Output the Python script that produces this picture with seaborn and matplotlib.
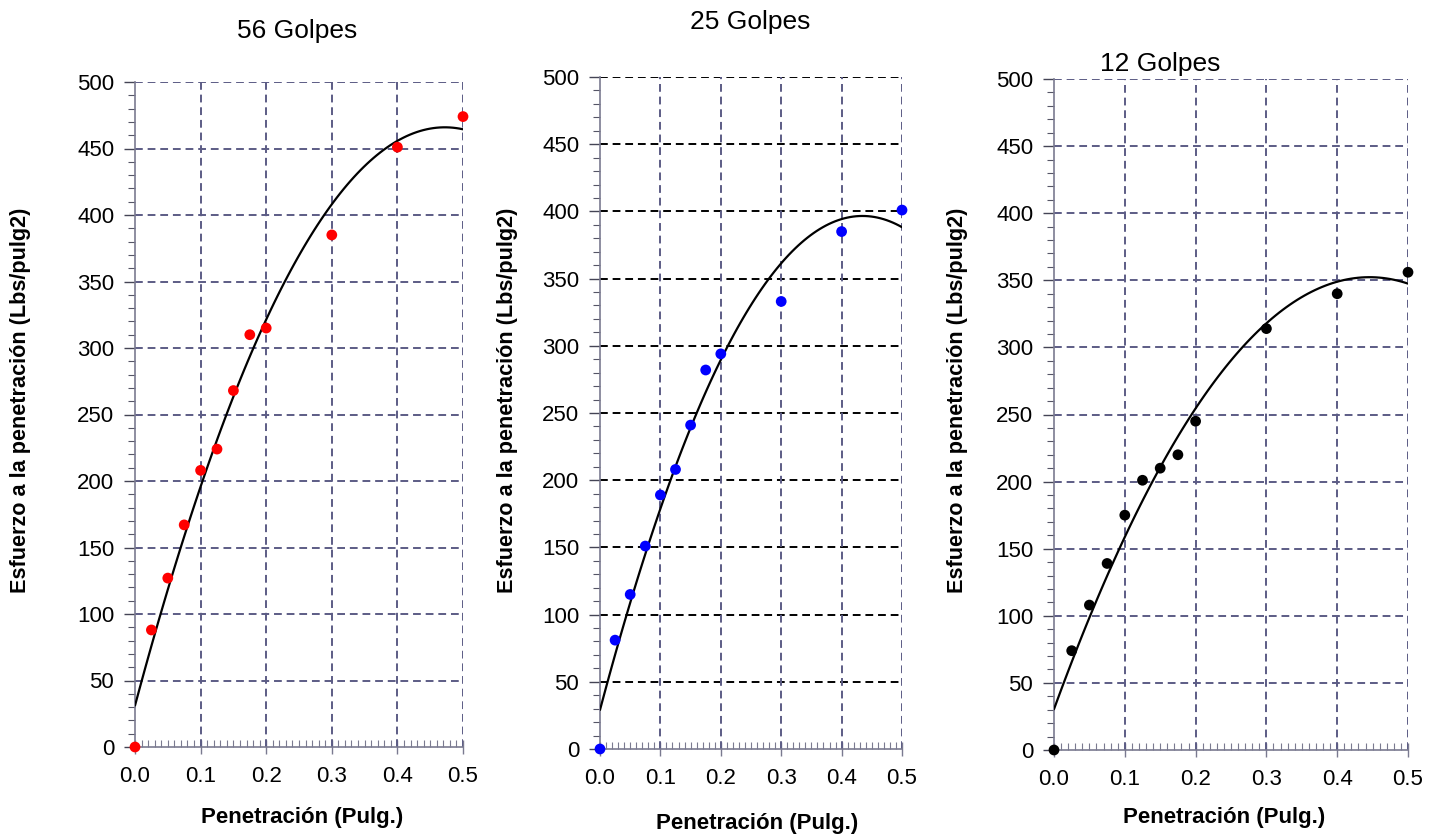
import numpy as np
import pandas as pd
import matplotlib
matplotlib.use("Agg")
import matplotlib.pyplot as plt
from matplotlib.ticker import MultipleLocator, FormatStrFormatter
import seaborn as sns

sns.set_style("white")
plt.rcParams['font.family'] = ['Liberation Sans', 'DejaVu Sans']
plt.rcParams['text.color'] = 'black'
plt.rcParams['axes.labelcolor'] = 'black'
plt.rcParams['xtick.color'] = 'black'
plt.rcParams['ytick.color'] = 'black'

penetracion = [0.0, 0.025, 0.05, 0.075, 0.1, 0.125, 0.15, 0.175, 0.2, 0.3, 0.4, 0.5]
esfuerzo_56 = [0, 88, 127, 167, 208, 224, 268, 310, 315, 385, 451, 474]
esfuerzo_25 = [0, 81, 115, 151, 189, 208, 241, 282, 294, 333, 385, 401]
esfuerzo_12 = [0, 74, 108, 139, 175, 201, 210, 220, 245, 314, 340, 356]
titulos = ["56 Golpes", "25 Golpes", "12 Golpes"]
colores = ["#ff0000", "#0000ff", "#000000"]
xlabel = "Penetración (Pulg.)"
ylabel = "Esfuerzo a la penetración (Lbs/pulg2)"

W, H = 1442, 835
fig = plt.figure(figsize=(W / 100, H / 100), dpi=100)

def fx(px):
    return px / W

def fy(py):
    return 1 - py / H

# (left, right, top, bottom) in pixels
boxes = [(135, 463, 82, 747), (600, 902, 77, 749), (1054, 1408, 79, 750)]
title_pos = [(297, 38), (750, 29), (1160, 71)]
ylab_x = [21, 507, 957]
xlab_pos = [(302, 817), (757, 823), (1224, 818)]
hgrid_col = ["#5c5c85", "#000000", "#5c5c85"]
vgrid_col = "#5c5c85"
series = [esfuerzo_56, esfuerzo_25, esfuerzo_12]

for i in range(3):
    l, r, t, b = boxes[i]
    ax = fig.add_axes([fx(l), fy(b), fx(r - l), (b - t) / H])
    df = pd.DataFrame({"x": penetracion, "y": series[i]})
    sns.regplot(data=df, x="x", y="y", order=2, ci=None, scatter=False,
                ax=ax, line_kws=dict(color="black", lw=1.6, zorder=4))
    sns.scatterplot(data=df, x="x", y="y", ax=ax, color=colores[i], s=60,
                    edgecolor="none", zorder=5, clip_on=False)
    ax.set_xlim(0, 0.5)
    ax.set_ylim(0, 500)
    ax.xaxis.set_major_locator(MultipleLocator(0.1))
    ax.xaxis.set_minor_locator(MultipleLocator(0.01))
    ax.yaxis.set_major_locator(MultipleLocator(50))
    ax.yaxis.set_minor_locator(MultipleLocator(10))
    ax.xaxis.set_major_formatter(FormatStrFormatter('%.1f'))
    ax.grid(False)
    for yv in range(50, 501, 50):
        ax.axhline(yv, color=hgrid_col[i], ls=(0, (4, 2.5)), lw=1.4, zorder=1)
    for xv in [0.1, 0.2, 0.3, 0.4, 0.5]:
        ax.axvline(xv, color=vgrid_col, ls=(0, (4, 2.5)), lw=1.4, zorder=1)
    for s in ["top", "right"]:
        ax.spines[s].set_visible(False)
    for s in ["left", "bottom"]:
        ax.spines[s].set_color("#7a7a90")
        ax.spines[s].set_linewidth(1.2)
    ax.tick_params(which="both", left=True, bottom=True)
    ax.tick_params(axis="y", which="major", direction="out", length=8, width=1,
                   color="#444455", labelsize=16, pad=7)
    ax.tick_params(axis="y", which="minor", direction="out", length=5, width=0.8,
                   color="#555566")
    ax.tick_params(axis="x", which="major", direction="inout", length=10, width=1,
                   color="#7a7a90", labelsize=16, pad=9)
    ax.tick_params(axis="x", which="minor", direction="in", length=5, width=0.8,
                   color="#7a7a90")
    ax.set_xlabel(xlabel, fontsize=16, fontweight="bold")
    ax.set_ylabel(ylabel, fontsize=15.6, fontweight="bold")
    ax.xaxis.set_label_coords(fx(xlab_pos[i][0]), fy(xlab_pos[i][1]), transform=fig.transFigure)
    ax.yaxis.set_label_coords(fx(ylab_x[i]), fy(400), transform=fig.transFigure)
    ax.xaxis.label.set_va("center")
    ax.yaxis.label.set_va("center")
    fig.text(fx(title_pos[i][0]), fy(title_pos[i][1]), titulos[i], fontsize=19,
             ha="center", va="baseline")

fig.savefig("out.png", dpi=100)
